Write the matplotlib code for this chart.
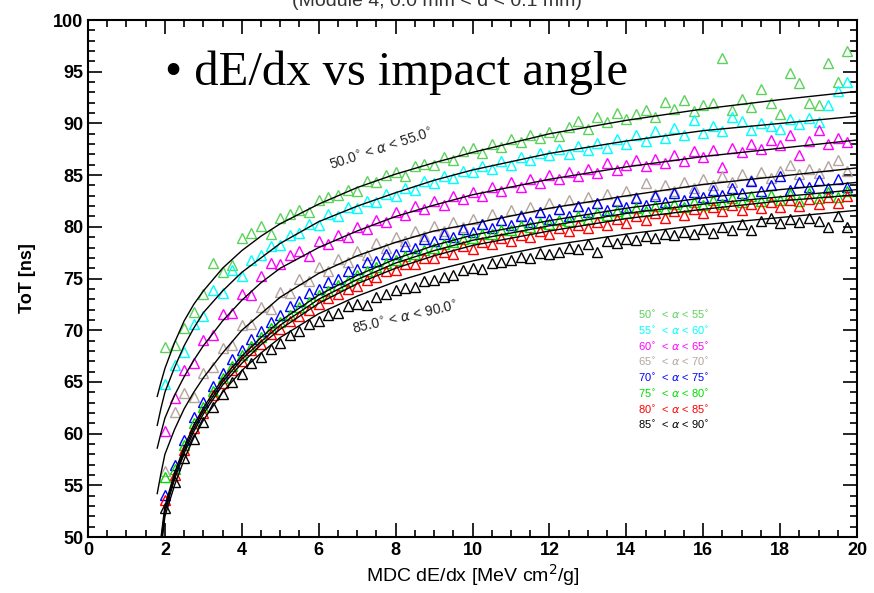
import numpy as np
import matplotlib.pyplot as plt
from matplotlib.ticker import MultipleLocator

# x grid of the measured bins (MeV cm2/g)
xs = np.arange(2.0, 20.0, 0.25)

labels = ["50", "55", "60", "65", "70", "75", "80", "85"]
colors = ["#5cd25c", "#00ffff", "#ff00ff", "#b4a59e", "#0000ff", "#00dd00", "#ff0000", "#000000"]

tot_50 = [68.4, 68.6, 70.2, 71.8, 73.5, 76.5, 75.6, 76.3,
          78.9, 79.4, 80.1, 79.3, 80.9, 81.2, 81.6, 81.4,
          82.6, 82.9, 83.1, 83.6, 83.5, 84.4, 84.3, 85.0,
          85.3, 84.9, 85.9, 86.1, 86.0, 86.8, 86.5, 87.3,
          87.6, 87.1, 88.0, 87.7, 88.5, 88.2, 88.9, 88.6,
          89.2, 88.8, 89.7, 90.2, 89.5, 90.6, 90.1, 91.0,
          90.4, 90.9, 91.3, 90.6, 92.1, 91.4, 92.3, 91.2,
          91.8, 92.0, 96.3, 91.3, 92.4, 91.6, 93.3, 92.0,
          90.9, 94.9, 93.9, 92.0, 91.8, 95.8, 94.0, 97.0]
tot_55 = [64.8, 66.6, 67.9, 70.6, 71.4, 73.9, 73.6, 75.8,
          75.2, 76.8, 77.3, 78.1, 78.2, 79.2, 79.4, 80.3,
          80.2, 81.2, 81.0, 81.9, 81.8, 82.5, 82.4, 83.2,
          83.0, 83.8, 83.6, 84.4, 84.2, 84.9, 84.7, 85.4,
          85.3, 85.9, 85.6, 86.4, 86.0, 86.8, 86.5, 87.1,
          86.9, 87.5, 87.0, 87.8, 87.4, 88.1, 87.6, 88.5,
          88.0, 88.9, 88.3, 89.3, 88.6, 89.6, 88.9, 90.3,
          89.1, 89.8, 89.3, 90.6, 90.2, 89.4, 90.0, 89.8,
          89.5, 90.4, 89.9, 90.5, 90.1, 91.8, 93.1, 94.0]
tot_60 = [60.3, 63.4, 66.2, 66.8, 69.1, 69.5, 71.6, 71.7,
          73.5, 73.4, 75.2, 76.5, 76.4, 77.3, 77.7, 77.2,
          78.6, 78.3, 79.2, 79.0, 80.0, 79.8, 80.7, 80.5,
          81.4, 81.1, 82.0, 81.7, 82.5, 82.1, 83.0, 82.7,
          83.4, 83.0, 83.9, 83.5, 84.3, 83.9, 84.6, 84.2,
          85.0, 84.6, 85.3, 84.9, 85.6, 85.2, 86.2, 85.5,
          86.0, 86.5, 85.9, 86.6, 86.2, 86.9, 86.4, 87.3,
          86.8, 87.4, 85.8, 87.6, 87.2, 88.0, 87.5, 88.4,
          87.9, 88.9, 86.9, 88.3, 89.4, 88.0, 88.6, 88.2]
tot_65 = [56.4, 62.1, 63.9, 63.5, 65.9, 66.4, 68.3, 68.6,
          70.5, 70.6, 72.2, 72.1, 73.7, 73.6, 75.0, 74.8,
          76.1, 75.7, 76.9, 76.6, 77.7, 77.3, 78.4, 78.0,
          79.0, 78.6, 79.6, 79.1, 80.1, 79.6, 80.5, 80.0,
          80.8, 80.3, 81.2, 80.7, 81.6, 81.1, 81.9, 81.4,
          82.3, 81.7, 82.6, 82.0, 82.9, 82.3, 83.2, 82.6,
          83.5, 82.9, 84.2, 83.2, 84.0, 83.5, 84.3, 83.8,
          84.6, 84.0, 84.9, 84.3, 85.1, 84.5, 85.3, 84.7,
          85.4, 86.0, 85.1, 85.6, 85.2, 85.9, 86.5, 85.4]
tot_70 = [54.1, 57.0, 59.4, 61.6, 63.1, 64.6, 65.9, 67.2,
          68.1, 69.2, 69.9, 70.8, 71.5, 72.3, 72.8, 73.6,
          74.0, 74.7, 75.0, 75.7, 75.9, 76.6, 76.7, 77.4,
          77.4, 78.1, 78.0, 78.8, 78.6, 79.3, 79.0, 79.8,
          79.5, 80.3, 79.9, 80.7, 80.2, 81.0, 80.5, 81.4,
          80.8, 81.7, 81.0, 82.0, 81.4, 82.3, 81.6, 82.5,
          81.9, 82.8, 82.1, 83.0, 82.4, 83.3, 82.6, 83.4,
          82.9, 83.6, 83.1, 83.8, 83.3, 84.4, 83.5, 84.0,
          84.9, 83.6, 84.3, 83.9, 84.5, 83.8, 84.6, 83.9]
tot_75 = [55.8, 56.6, 58.9, 61.0, 62.6, 64.1, 65.4, 66.5,
          67.6, 68.5, 69.3, 70.2, 70.8, 71.5, 72.2, 72.7,
          73.4, 73.8, 74.4, 74.8, 75.3, 75.7, 76.1, 76.5,
          76.8, 77.2, 77.4, 77.8, 78.0, 78.3, 78.5, 78.8,
          78.9, 79.3, 79.3, 79.7, 79.7, 80.1, 80.0, 80.4,
          80.3, 80.7, 80.6, 81.0, 80.8, 81.3, 81.1, 81.5,
          81.3, 81.8, 81.5, 82.0, 81.7, 82.2, 81.9, 82.4,
          82.1, 82.6, 82.2, 82.8, 82.4, 83.0, 82.5, 83.1,
          82.6, 83.2, 82.5, 83.3, 82.8, 83.4, 82.9, 83.5]
tot_80 = [53.6, 56.0, 58.4, 60.5, 62.0, 63.7, 64.9, 66.2,
          67.0, 68.1, 68.7, 69.6, 70.1, 70.9, 71.4, 72.0,
          72.5, 73.1, 73.5, 74.0, 74.3, 74.9, 75.1, 75.7,
          75.8, 76.4, 76.4, 77.0, 77.0, 77.6, 77.4, 78.1,
          77.9, 78.5, 78.3, 78.9, 78.6, 79.2, 79.0, 79.6,
          79.3, 79.9, 79.6, 80.2, 79.9, 80.5, 80.2, 80.8,
          80.4, 81.0, 80.7, 81.3, 80.9, 81.5, 81.1, 81.7,
          81.3, 81.9, 81.5, 82.1, 81.6, 82.2, 81.8, 82.4,
          81.9, 82.6, 82.0, 82.7, 82.2, 82.9, 82.3, 83.0]
tot_85 = [52.8, 55.3, 57.6, 59.5, 61.1, 62.6, 63.8, 65.0,
          65.8, 66.8, 67.4, 68.2, 68.8, 69.5, 69.9, 70.6,
          70.9, 71.5, 71.7, 72.3, 72.5, 72.4, 73.2, 73.5,
          73.9, 74.1, 74.2, 74.8, 74.9, 75.1, 75.3, 75.8,
          76.0, 75.9, 76.5, 76.6, 76.8, 77.1, 77.0, 77.5,
          77.4, 77.6, 78.0, 77.9, 78.3, 77.6, 78.6, 78.4,
          78.8, 78.7, 79.1, 78.9, 79.3, 79.2, 79.5, 79.3,
          79.8, 79.4, 80.0, 79.7, 80.3, 79.7, 80.6, 80.9,
          80.4, 80.8, 80.5, 80.9, 80.6, 80.0, 81.0, 80.0]

# fitted curves, read at these x
fit_x = [1.8, 1.9, 2.0, 2.25, 2.5, 2.75, 3.0, 3.5, 4.0, 4.5, 5.0,
         6.0, 7.0, 8.0, 9.0, 10.0, 12.0, 14.0, 16.0, 18.0, 20.0]
fit_50 = [63.6, 65.0, 66.3, 68.8, 70.9, 72.5, 73.8, 76.0, 77.7, 79.1, 80.3,
          82.2, 83.8, 85.1, 86.2, 87.2, 89.0, 90.3, 91.4, 92.3, 93.1]
fit_55 = [60.8, 62.5, 64.0, 66.4, 68.5, 70.2, 71.7, 73.8, 75.6, 77.0, 78.4,
          80.5, 82.0, 83.3, 84.5, 85.5, 87.1, 88.3, 89.3, 90.0, 90.7]
fit_60 = [58.6, 60.1, 61.5, 63.7, 65.5, 67.1, 68.5, 70.9, 72.9, 74.6, 76.0,
          78.0, 79.6, 81.0, 82.1, 83.1, 84.6, 85.8, 86.8, 87.6, 88.4]
fit_65 = [54.2, 56.2, 58.0, 60.4, 62.4, 64.0, 65.4, 67.8, 70.0, 71.6, 73.2,
          75.5, 77.2, 78.5, 79.6, 80.3, 81.8, 83.0, 84.1, 84.9, 85.7]
fit_70 = [46.5, 50.0, 53.0, 56.2, 58.7, 60.8, 62.5, 65.3, 67.5, 69.3, 70.9,
          73.4, 75.3, 76.9, 78.2, 79.2, 80.6, 81.8, 82.8, 83.6, 84.3]
fit_75 = [46.0, 49.6, 52.7, 55.9, 58.4, 60.5, 62.2, 65.0, 67.2, 68.9, 70.5,
          73.0, 74.9, 76.5, 77.7, 78.7, 80.1, 81.3, 82.2, 82.9, 83.6]
fit_80 = [45.5, 49.2, 52.4, 55.6, 58.1, 60.2, 61.9, 64.7, 66.8, 68.6, 70.1,
          72.6, 74.5, 76.0, 77.2, 78.2, 79.6, 80.8, 81.7, 82.5, 83.1]
fit_85 = [45.0, 48.8, 52.0, 55.0, 57.5, 59.6, 61.3, 64.0, 66.1, 67.8, 69.3,
          71.6, 73.3, 74.7, 75.8, 76.7, 78.2, 79.3, 80.2, 80.9, 81.6]

points = [tot_50, tot_55, tot_60, tot_65, tot_70, tot_75, tot_80, tot_85]
fits = [fit_50, fit_55, fit_60, fit_65, fit_70, fit_75, fit_80, fit_85]

plt.rcParams['font.family'] = ['Liberation Sans', 'DejaVu Sans']

fig = plt.figure(figsize=(8.74, 5.93), dpi=100)
ax = fig.add_axes([0.1007, 0.0944, 0.8799, 0.8718])

for ys, c in zip(points, colors):
    ax.plot(xs, ys, linestyle="none", marker="^", markersize=7,
            markerfacecolor="none", markeredgecolor=c, markeredgewidth=1.0)
for f in fits:
    ax.plot(fit_x, f, color="black", lw=1.0)

ax.set_xlim(0, 20)
ax.set_ylim(50, 100)
ax.xaxis.set_major_locator(MultipleLocator(2))
ax.xaxis.set_minor_locator(MultipleLocator(0.5))
ax.yaxis.set_major_locator(MultipleLocator(5))
ax.yaxis.set_minor_locator(MultipleLocator(1))
ax.tick_params(which="both", direction="in", top=True, right=True, width=1.2)
ax.tick_params(which="major", length=10, labelsize=13)
ax.tick_params(which="minor", length=5)
for lab in ax.get_xticklabels() + ax.get_yticklabels():
    lab.set_fontweight("bold")
for s in ax.spines.values():
    s.set_linewidth(1.5)

ax.set_xlabel("MDC dE/dx [MeV cm$^2$/g]", fontsize=14, labelpad=2)
ax.set_ylabel("ToT [ns]", fontsize=13, fontweight="bold", labelpad=12)

fig.text(0.5, 0.997, "(Module 4, 0.0 mm < d < 0.1 mm)", ha="center", va="center",
         fontsize=14, color="#333333")

ax.text(0.100, 0.899, "\u2022 dE/dx vs impact angle", transform=ax.transAxes,
        fontsize=35, family=["Liberation Serif", "DejaVu Serif"], va="center", ha="left")

ax.text(0.381, 0.749, "50.0$^{\\circ}$ < $\\alpha$ < 55.0$^{\\circ}$", transform=ax.transAxes,
        fontsize=10, rotation=18, ha="center", va="center", color="#222222")
ax.text(0.412, 0.425, "85.0$^{\\circ}$ < $\\alpha$ < 90.0$^{\\circ}$", transform=ax.transAxes,
        fontsize=10, rotation=13, ha="center", va="center", color="#222222")

for i, (lab, c) in enumerate(zip(labels, colors)):
    hi = int(lab) + 5
    ax.text(0.715, 0.429 - i * 0.0304, f"{lab}$^{{\\circ}}$  < $\\alpha$ < {hi}$^{{\\circ}}$",
            transform=ax.transAxes, fontsize=8, color=c, ha="left", va="center")

fig.savefig("out.png", dpi=100)
